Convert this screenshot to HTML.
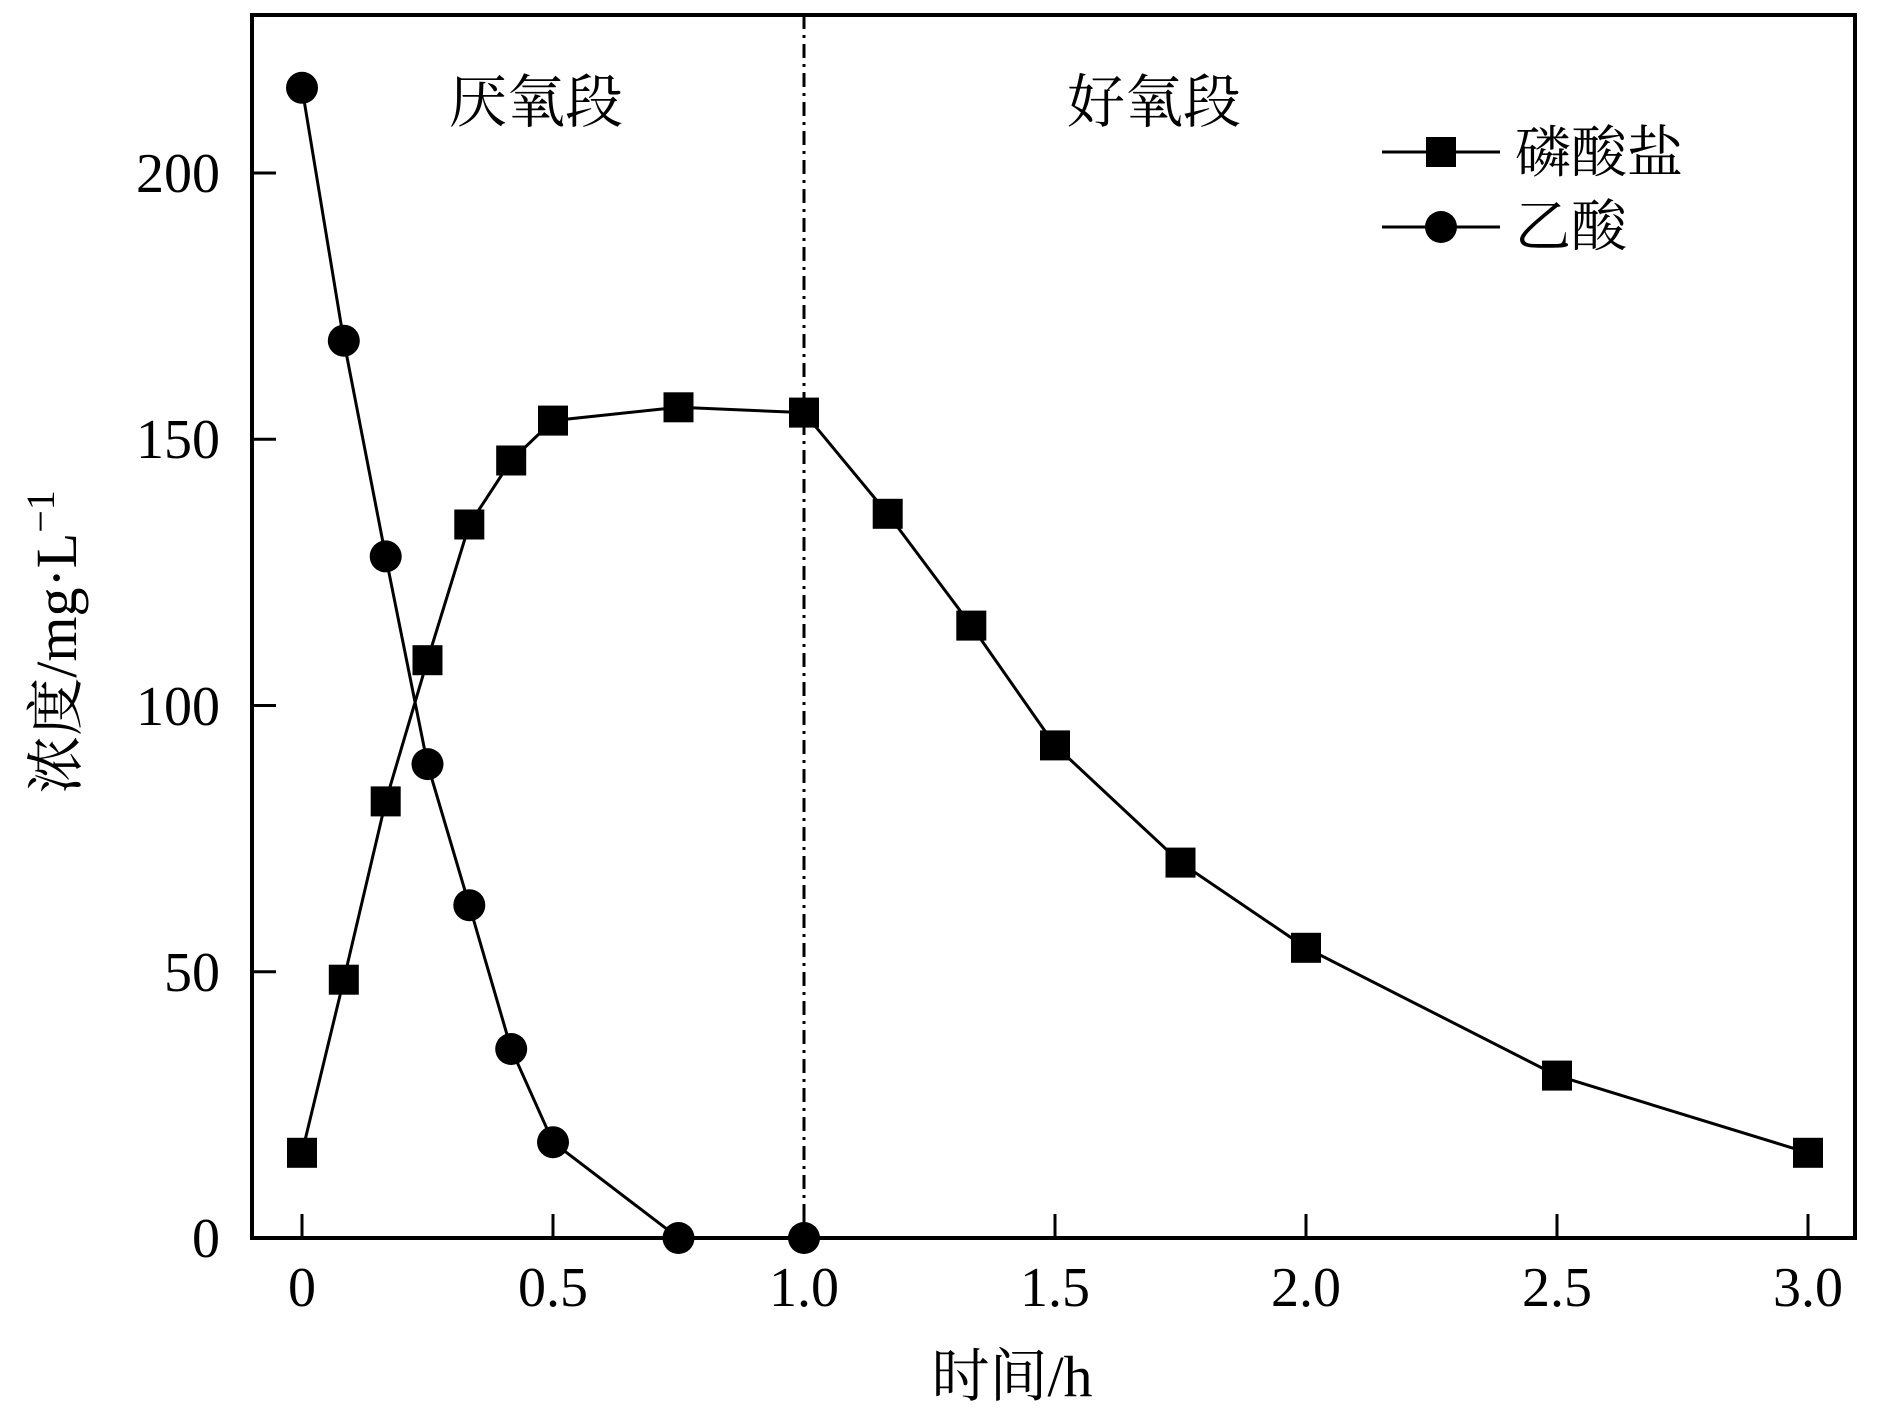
<!DOCTYPE html>
<html><head><meta charset="utf-8"><style>
html,body{margin:0;padding:0;background:#fff}
text{font-family:"Liberation Serif","Noto Serif CJK SC",serif;fill:#000}
</style></head><body>
<svg width="1890" height="1406" viewBox="0 0 1890 1406" xmlns="http://www.w3.org/2000/svg">
<rect x="252" y="15" width="1603" height="1223" fill="none" stroke="#000" stroke-width="4"/>
<line x1="804" y1="15" x2="804" y2="1238" stroke="#000" stroke-width="3" stroke-dasharray="14,6,3,6"/>
<g stroke="#000" stroke-width="3">
<line x1="302" y1="1238" x2="302" y2="1214"/><line x1="553" y1="1238" x2="553" y2="1214"/>
<line x1="804" y1="1238" x2="804" y2="1214"/><line x1="1055" y1="1238" x2="1055" y2="1214"/>
<line x1="1306" y1="1238" x2="1306" y2="1214"/><line x1="1557" y1="1238" x2="1557" y2="1214"/>
<line x1="1808" y1="1238" x2="1808" y2="1214"/>
<line x1="252" y1="1238" x2="276" y2="1238"/><line x1="252" y1="971.75" x2="276" y2="971.75"/>
<line x1="252" y1="705.5" x2="276" y2="705.5"/><line x1="252" y1="439.25" x2="276" y2="439.25"/>
<line x1="252" y1="173" x2="276" y2="173"/>
</g>
<g font-size="56" text-anchor="middle">
<text x="302" y="1306">0</text><text x="553" y="1306">0.5</text><text x="804" y="1306">1.0</text>
<text x="1055" y="1306">1.5</text><text x="1306" y="1306">2.0</text><text x="1557" y="1306">2.5</text>
<text x="1808" y="1306">3.0</text>
</g>
<g font-size="56" text-anchor="end">
<text x="220" y="1257">0</text><text x="220" y="991">50</text><text x="220" y="725">100</text>
<text x="220" y="458">150</text><text x="220" y="192">200</text>
</g>
<text x="1012" y="1396" font-size="58" text-anchor="middle">时间/h</text>
<text transform="translate(76,642) rotate(-90)" font-size="58" text-anchor="middle">浓度/mg·L<tspan dy="-22" font-size="40">−1</tspan></text>
<text x="536" y="122" font-size="58" text-anchor="middle">厌氧段</text>
<text x="1154" y="122" font-size="58" text-anchor="middle">好氧段</text>
<line x1="1382" y1="152" x2="1500" y2="152" stroke="#000" stroke-width="3"/>
<rect x="1426" y="137" width="30" height="30" fill="#000"/>
<line x1="1382" y1="227" x2="1500" y2="227" stroke="#000" stroke-width="3"/>
<circle cx="1441" cy="227" r="16" fill="#000"/>
<text x="1515" y="172" font-size="56">磷酸盐</text>
<text x="1515" y="246" font-size="56">乙酸</text>
<polyline fill="none" stroke="#000" stroke-width="3" points="302,1152.8 343.8,979.7 385.7,801.4 427.5,660.2 469.3,524.5 511.2,460.5 553,420.6 678.5,407.3 804,412.6 887.7,513.8 971.3,625.6 1055,745.4 1180.5,862.6 1306,947.8 1557,1075.6 1808,1152.8"/>
<g fill="#000">
<rect x="287" y="1137.8" width="30" height="30"/><rect x="328.8" y="964.7" width="30" height="30"/>
<rect x="370.7" y="786.4" width="30" height="30"/><rect x="412.5" y="645.2" width="30" height="30"/>
<rect x="454.3" y="509.5" width="30" height="30"/><rect x="496.2" y="445.5" width="30" height="30"/>
<rect x="538" y="405.6" width="30" height="30"/><rect x="663.5" y="392.3" width="30" height="30"/>
<rect x="789" y="397.6" width="30" height="30"/><rect x="872.7" y="498.8" width="30" height="30"/>
<rect x="956.3" y="610.6" width="30" height="30"/><rect x="1040" y="730.4" width="30" height="30"/>
<rect x="1165.5" y="847.6" width="30" height="30"/><rect x="1291" y="932.8" width="30" height="30"/>
<rect x="1542" y="1060.6" width="30" height="30"/><rect x="1793" y="1137.8" width="30" height="30"/>
</g>
<polyline fill="none" stroke="#000" stroke-width="3" points="302,87.8 343.8,340.7 385.7,556.4 427.5,764.1 469.3,905.2 511.2,1049 553,1142.2 678.5,1238 804,1238"/>
<g fill="#000">
<circle cx="302" cy="87.8" r="16"/><circle cx="343.8" cy="340.7" r="16"/><circle cx="385.7" cy="556.4" r="16"/>
<circle cx="427.5" cy="764.1" r="16"/><circle cx="469.3" cy="905.2" r="16"/><circle cx="511.2" cy="1049" r="16"/>
<circle cx="553" cy="1142.2" r="16"/><circle cx="678.5" cy="1238" r="16"/><circle cx="804" cy="1238" r="16"/>
</g>
</svg>
</body></html>
